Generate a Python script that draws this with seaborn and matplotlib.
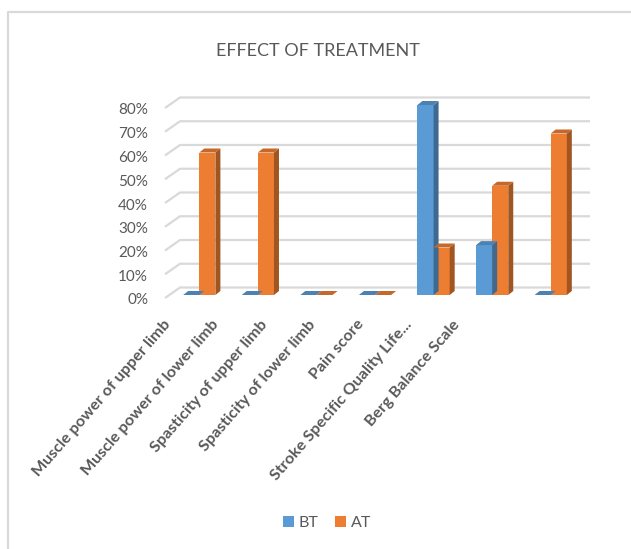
import numpy as np
import pandas as pd
import seaborn as sns
import matplotlib
matplotlib.use("Agg")
import matplotlib.pyplot as plt
from matplotlib import transforms as mtransforms
from matplotlib.patches import Polygon
from matplotlib.lines import Line2D

# ---- data -------------------------------------------------------------
categories = [
    "Muscle power of upper limb",
    "Muscle power of lower limb",
    "Spasticity of upper limb",
    "Spasticity of lower limb",
    "Pain score",
    "Stroke Specific Quality Life...",
    "Berg Balance Scale",
]
bt_values = [0, 0, 0, 0, 80, 21, 0]
at_values = [60, 60, 0, 0, 20, 46, 68]
series_names = ["BT", "AT"]
y_ticks = [0, 10, 20, 30, 40, 50, 60, 70, 80]
y_tick_labels = [f"{t}%" for t in y_ticks]
title_text = "EFFECT OF TREATMENT"

# ---- style ------------------------------------------------------------
BLUE = "#5b9bd5"
ORANGE = "#ed7d31"
GRID = "#d9d9d9"
TEXT = "#595959"
W, H, DPI = 631, 549, 100

sns.set_theme(style="white")
plt.rcParams["font.family"] = ["Lato", "DejaVu Sans"]

df = pd.DataFrame({
    "Measure": categories * 2,
    "Series": [series_names[0]] * len(categories) + [series_names[1]] * len(categories),
    "Percent": bt_values + at_values,
})

fig = plt.figure(figsize=(W / DPI, H / DPI), dpi=DPI)
fig.patch.set_facecolor("white")

# front plane of the plot area, in pixels
ax_left, ax_right, ax_base, ax_top = 170, 580, 295, 105
ax = fig.add_axes([ax_left / W, 1 - ax_base / H,
                   (ax_right - ax_left) / W, (ax_base - ax_top) / H])

sns.barplot(data=df, x="Measure", y="Percent", hue="Series",
            hue_order=series_names, palette=[BLUE, ORANGE],
            width=0.55, saturation=1, linewidth=0, legend=False,
            zorder=3, ax=ax)
ax.set_xlim(-0.5, len(categories) - 0.5)
ax.set_ylim(0, 80)
ax.set_facecolor("none")
for s in ax.spines.values():
    s.set_visible(False)
ax.set_xticks([])
ax.set_yticks([])
ax.set_xlabel("")
ax.set_ylabel("")

to_fig = fig.transFigure.inverted()


def px_to_fig(pts):
    return to_fig.transform(np.asarray(pts, dtype=float))


# back-wall gridlines and the slanted floor edge at the left
wall_dx, wall_dy = 10, 7.5
floor_dx, floor_dy = -5, -3
for v in y_ticks:
    xl, yv = ax.transData.transform((-0.5, v))
    xr, _ = ax.transData.transform((len(categories) - 0.5, v))
    pts = px_to_fig([
        (xl + floor_dx, yv + floor_dy),
        (xl + wall_dx, yv + wall_dy),
        (xr + wall_dx, yv + wall_dy),
    ])
    fig.add_artist(Line2D(pts[:, 0], pts[:, 1], color=GRID, lw=1.6,
                          zorder=0, solid_capstyle="butt"))

# give each bar a top and a side face
depth_dx, depth_dy = 5, 4


def shade(c, f):
    r, g, b, _ = c
    return (r * f, g * f, b * f)


for bar in ax.patches:
    x0 = bar.get_x()
    x1 = x0 + bar.get_width()
    h = bar.get_height()
    col = bar.get_facecolor()
    (px0, py0), (px1, py1) = ax.transData.transform([(x0, 0), (x1, h)])
    side = px_to_fig([(px1, py0), (px1, py1),
                      (px1 + depth_dx, py1 + depth_dy),
                      (px1 + depth_dx, py0 + depth_dy)])
    top = px_to_fig([(px0, py1), (px1, py1),
                     (px1 + depth_dx, py1 + depth_dy),
                     (px0 + depth_dx, py1 + depth_dy)])
    fig.add_artist(Polygon(side, closed=True, facecolor=shade(col, 0.68),
                           edgecolor="none", zorder=4))
    fig.add_artist(Polygon(top, closed=True, facecolor=shade(col, 0.83),
                           edgecolor="none", zorder=4))

# value axis labels
ylab_trans = mtransforms.blended_transform_factory(ax.transAxes, ax.transData) + \
    mtransforms.ScaledTranslation(-22 / DPI, -5.5 / DPI, fig.dpi_scale_trans)
for v, lab in zip(y_ticks, y_tick_labels):
    ax.text(0, v, lab, transform=ylab_trans, ha="right", va="center",
            fontsize=11, color=TEXT, clip_on=False)

# category labels, rotated
lab_x0, lab_step, lab_y = 168, 48.3, 322
for i, name in enumerate(categories):
    fig.text((lab_x0 + lab_step * i) / W, 1 - lab_y / H, name,
             rotation=49, rotation_mode="anchor", ha="right", va="center",
             fontsize=11.6, fontweight="bold", color=TEXT)

# title
fig.text(318 / W, 1 - 51 / H, title_text, ha="center", va="center",
         fontsize=13, color=TEXT)

# legend
handles = [plt.Rectangle((0, 0), 1, 1, facecolor=c, edgecolor="none")
           for c in (BLUE, ORANGE)]
fig.legend(handles, series_names, loc="center", ncol=2, frameon=False,
           bbox_to_anchor=(327 / W, 1 - 523 / H), fontsize=11.5,
           handlelength=0.7, handleheight=0.7, handletextpad=0.3,
           columnspacing=1.0, labelcolor=TEXT)

# chart frame (top and left edges)
fp = px_to_fig([(7.5, 0), (7.5, H - 12), (W, H - 12)])
fig.add_artist(Line2D(fp[:, 0], fp[:, 1], color=GRID, lw=1.6))

fig.savefig("out.png", dpi=DPI, facecolor="white")
